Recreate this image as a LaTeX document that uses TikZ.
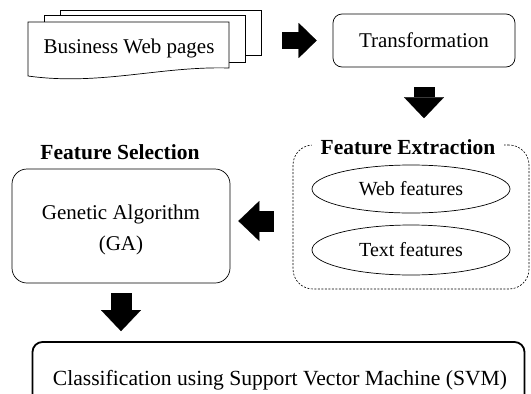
\documentclass[tikz,border=0pt]{standalone}
\usepackage{fontspec}
\setmainfont{Liberation Serif}
\usepackage{tikz}
\usetikzlibrary{arrows.meta,shapes.geometric}
\definecolor{ink}{HTML}{000000}
\tikzset{
  page/.style={draw=ink,fill=white,line width=0.7pt,inner sep=0pt},
  box/.style={draw=ink,line width=0.7pt,inner sep=0pt,align=center},
  oval/.style={ellipse,draw=ink,line width=0.7pt,inner sep=0pt,font=\fontsize{20}{24}\selectfont},
  title/.style={font=\bfseries\fontsize{21.5}{26}\selectfont,inner sep=2pt},
  blockarrow/.style={ink,line width=21pt,-{Triangle[length=21pt,width=40pt,line width=0.1pt]}}
}

\begin{document}
\begin{tikzpicture}[x=1pt,y=-1pt,font=\fontsize{21}{31}\selectfont]
\useasboundingbox (0,0) rectangle (531,394);
% the stack of pages
\node[page,minimum width=201pt,minimum height=45pt] (page3) at (160.5,32.5) {};
\node[page,minimum width=201pt,minimum height=47pt] (page2) at (144.5,38.5) {};
\filldraw[fill=white,draw=ink,line width=0.7pt] (28,22) -- (229,22) -- (229,68) .. controls (160,66) and (100,86) .. (28,76) -- cycle;
\node (web) at (129,48) {Business Web pages};
% transformation
\node[box,rounded corners=9pt,minimum width=182pt,minimum height=53pt] (trans) at (424,40.5) {Transformation};
% feature extraction
\node[box,dash pattern=on 2pt off 1.5pt,line width=0.6pt,rounded corners=20pt,minimum width=236pt,minimum height=144pt] (extract) at (411,217) {};
\node[title,fill=white,inner xsep=9pt] (fetitle) at (408,147) {Feature Extraction};
\node[oval,minimum width=198pt,minimum height=48pt] (webf) at (411,189) {Web features};
\node[oval,minimum width=198pt,minimum height=50pt] (textf) at (411,250) {Text features};
% feature selection
\node[title] (fstitle) at (120,152) {Feature Selection};
\node[box,rounded corners=15pt,minimum width=218pt,minimum height=114pt] (ga) at (121,226) {};
\node[align=center] (gatext) at (121,230) {Genetic Algorithm\\(GA)};
% classification
\node[box,line width=1.8pt,rounded corners=10pt,minimum width=492pt,minimum height=76pt] (svm) at (278.5,380) {};
\node[font=\fontsize{21.6}{26}\selectfont] (svmtext) at (280,380) {Classification using Support Vector Machine (SVM)};
% block arrows
\draw[blockarrow,line width=17pt,-{Triangle[length=18pt,width=35pt,line width=0.1pt]},shorten <=21pt,shorten >=16pt] (page3.east |- trans.west) -- (trans.west);
\draw[blockarrow,shorten <=20pt,shorten >=19pt] (trans.south) -- (trans.south |- fetitle.north);
\draw[blockarrow,shorten <=19pt,shorten >=8pt] ([yshift=-4pt]extract.west) -- ([yshift=-4pt]extract.west -| ga.east);
\draw[blockarrow,shorten <=10pt,shorten >=10pt] (ga.south) -- (ga.south |- svm.north);
\end{tikzpicture}
\end{document}
